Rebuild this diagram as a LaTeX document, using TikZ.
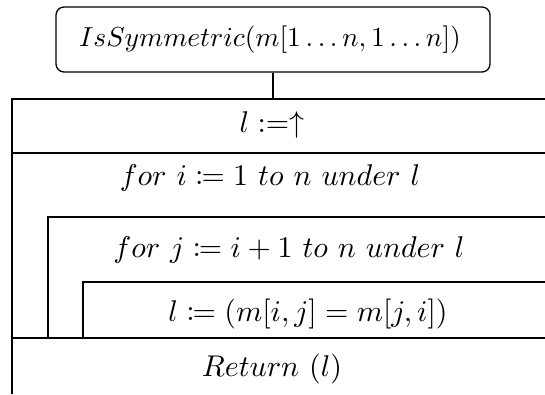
\documentclass[tikz,border=0pt]{standalone}
\usepackage{mathtools}
\newcommand{\bigtxt}[1]{\scalebox{3.0}{#1}}
\begin{document}
\begin{tikzpicture}[x=1pt,y=-1pt,
  frame/.style={line width=1.3pt},
  txt/.style={inner sep=0pt, anchor=center},
  topbox/.style={draw, line width=1.3pt, rounded corners=8pt, minimum width=434pt, minimum height=65pt, inner sep=0pt}]
\useasboundingbox (0,0) rectangle (545,394);
\node[topbox] (head) at (273,39.5) {};
\node[txt] (headtxt) at (270,40) {\scalebox{2.75}{$IsSymmetric(m[1\ldots n,1\ldots n])$}};
\coordinate (join) at (273,99);
\draw[frame] (head.south) -- (join);
\draw[frame] (12,394) -- (12,99) -- (545,99);
\draw[frame] (12,153) -- (545,153);
\draw[frame] (48,338) -- (48,217) -- (545,217);
\draw[frame] (83,338) -- (83,282) -- (545,282);
\draw[frame] (12,338) -- (545,338);
\node[txt] (init) at (272,125) {\bigtxt{$l :=\uparrow$}};
\node[txt] (fori) at (270,178) {\bigtxt{$for\ i \coloneqq 1\ to\ n\ under\ l$}};
\node[txt] (forj) at (289,250) {\bigtxt{$for\ j \coloneqq i+1\ to\ n\ under\ l$}};
\node[txt] (assign) at (308,314) {\bigtxt{$l \coloneqq (m[i,j]=m[j,i])$}};
\node[txt] (ret) at (272,369) {\bigtxt{$Return\ (l)$}};
\end{tikzpicture}
\end{document}
